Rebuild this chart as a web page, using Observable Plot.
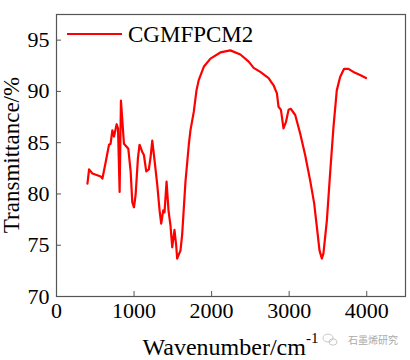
<!DOCTYPE html>
<html>
<head>
<meta charset="utf-8">
<script src="https://cdn.jsdelivr.net/npm/d3@7"></script>
<script src="https://cdn.jsdelivr.net/npm/@observablehq/plot@0.6"></script>
<style>
  html, body { margin: 0; padding: 0; background: #fff; }
  #chart { width: 410px; height: 360px; }
</style>
</head>
<body>
<div id="chart"></div>
<script>
const seriesName = "CGMFPCM2";
const wavenumber = [399, 420, 463, 570, 592, 634, 677, 698, 720, 741, 776, 793, 814, 831, 870, 926, 956, 977, 999, 1020, 1050, 1071, 1106, 1127, 1157, 1191, 1213, 1235, 1264, 1299, 1329, 1350, 1376, 1393, 1419, 1444, 1470, 1492, 1521, 1543, 1556, 1599, 1620, 1663, 1706, 1727, 1770, 1805, 1834, 1899, 1985, 2113, 2242, 2371, 2478, 2542, 2628, 2735, 2799, 2842, 2863, 2894, 2927, 2958, 2992, 3022, 3078, 3142, 3206, 3271, 3322, 3357, 3391, 3421, 3442, 3486, 3528, 3571, 3614, 3657, 3708, 3764, 3828, 3914, 3991];
const transmittance = [81.0, 82.4, 82.0, 81.7, 81.5, 83.1, 84.8, 84.9, 86.2, 85.6, 86.8, 86.4, 80.2, 89.1, 84.9, 84.4, 82.2, 79.2, 78.7, 79.9, 83.5, 84.8, 84.1, 83.8, 82.2, 82.4, 83.6, 85.2, 83.3, 80.9, 78.4, 77.1, 78.4, 78.2, 81.2, 78.4, 76.9, 74.8, 76.5, 75.0, 73.7, 74.5, 76.0, 81.2, 84.8, 86.2, 88.0, 90.1, 91.1, 92.4, 93.2, 93.8, 94.0, 93.6, 92.9, 92.3, 91.9, 91.3, 90.6, 89.8, 88.5, 88.2, 86.4, 87.0, 88.2, 88.3, 87.7, 85.9, 83.8, 81.3, 79.1, 76.8, 74.5, 73.7, 74.2, 77.4, 82.0, 86.5, 90.1, 91.4, 92.2, 92.2, 91.9, 91.6, 91.3];
const xTicks = [0, 1000, 2000, 3000, 4000];
const yTicks = [70, 75, 80, 85, 90, 95];
const xLabel = "Wavenumber/cm";
const xLabelSup = "-1";
const yLabel = "Transmittance/%";
const watermark = "石墨烯研究";

const data = wavenumber.map((w, i) => ({w, t: transmittance[i]}));
const serif = "'Times New Roman', 'Liberation Serif', serif";

const W = 410, H = 360;
const mL = 56, mR = 5, mT = 14, mB = 64;

const chart = Plot.plot({
  width: W, height: H,
  marginLeft: mL, marginRight: mR, marginTop: mT, marginBottom: mB,
  style: {fontFamily: serif, fontSize: "22px", background: "#fff", color: "#000"},
  x: {domain: [0, 4500]},
  y: {domain: [70, 97.5]},
  marks: [
    Plot.axisX({ticks: xTicks, tickFormat: d => String(d), tickSize: -5, tickPadding: 11, stroke: "#555", label: null, fontSize: 22, fill: "#000"}),
    Plot.axisY({ticks: yTicks, tickFormat: d => String(d), tickSize: -5, tickPadding: 12, stroke: "#555", label: null, fontSize: 22, fill: "#000"}),
    Plot.line(data, {x: "w", y: "t", stroke: "#ff0000", strokeWidth: 2.2}),
    Plot.frame({stroke: "#555", strokeWidth: 1.2})
  ]
});
document.getElementById("chart").appendChild(chart);

const svg = d3.select(chart);
// Legend
svg.append("line").attr("x1", 67).attr("x2", 122).attr("y1", 34).attr("y2", 34)
  .attr("stroke", "#ff0000").attr("stroke-width", 2.2);
svg.append("text").attr("x", 128).attr("y", 42).attr("text-anchor", "start").attr("font-family", serif)
  .attr("font-size", 23).attr("fill", "#000").text(seriesName);
// X label
const xl = svg.append("text").attr("x", (mL + W - mR) / 2).attr("y", 355)
  .attr("text-anchor", "middle").attr("font-family", serif).attr("font-size", 24).attr("fill", "#000");
xl.append("tspan").text(xLabel);
xl.append("tspan").attr("font-size", 15).attr("dy", -12).text(xLabelSup);
// Y label
svg.append("text").attr("transform", `translate(19,${(75 + 235) / 2}) rotate(-90)`)
  .attr("text-anchor", "middle").attr("font-family", serif).attr("font-size", 23).attr("fill", "#000")
  .text(yLabel);
// Watermark
const wm = svg.append("g").attr("stroke", "#bbb").attr("fill", "none").attr("stroke-width", 0.8);
wm.append("ellipse").attr("cx", 328).attr("cy", 338).attr("rx", 5).attr("ry", 4);
wm.append("ellipse").attr("cx", 333).attr("cy", 342).attr("rx", 4).attr("ry", 3.2);
svg.append("text").attr("x", 348).attr("y", 344).attr("text-anchor", "start").attr("font-family", "'Noto Sans CJK SC', sans-serif")
  .attr("font-size", 10).attr("fill", "#aaa").text(watermark);
</script>
</body>
</html>
